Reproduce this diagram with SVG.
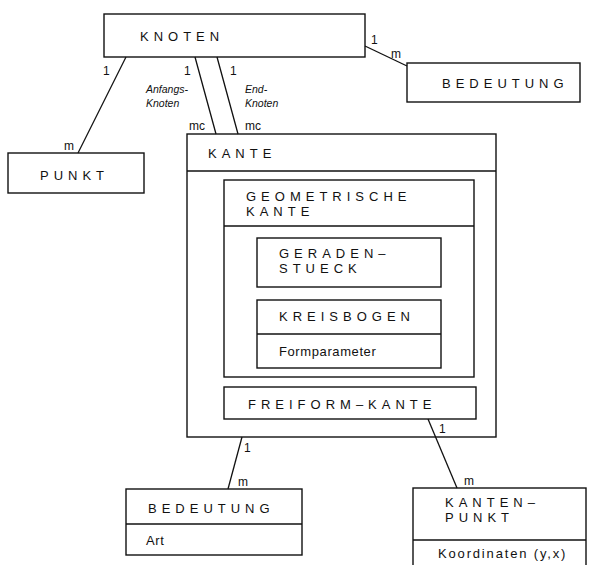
<svg xmlns="http://www.w3.org/2000/svg" width="595" height="565" viewBox="0 0 595 565">
<style>
.b{fill:none;stroke:#111;stroke-width:1.4}
#connectors line{stroke:#111;stroke-width:1.3}
text{font-family:"Liberation Sans",Arial,sans-serif;fill:#111}
.t{font-size:13px;letter-spacing:5px}
.s{font-size:13px;letter-spacing:0.6px}
.c{font-size:12px}
.i{font-size:10.5px;font-style:italic}
</style>
<rect x="0" y="0" width="595" height="565" fill="#fff"/>
<g id="connectors">
<line x1="126" y1="57" x2="78" y2="153"/>
<line x1="195" y1="57" x2="216" y2="134"/>
<line x1="217" y1="57" x2="238" y2="134"/>
<line x1="365" y1="46" x2="407" y2="66"/>
<line x1="242" y1="437" x2="228" y2="489"/>
<line x1="428" y1="419" x2="457" y2="488"/>
<text class="c" x="103" y="75">1</text>
<text class="c" x="64" y="150">m</text>
<text class="c" x="184" y="75">1</text>
<text class="c" x="230" y="75">1</text>
<text class="c" x="371" y="44">1</text>
<text class="c" x="391" y="58">m</text>
<text class="c" x="189" y="130">mc</text>
<text class="c" x="245" y="130">mc</text>
<text class="i" x="146" y="93">Anfangs-</text>
<text class="i" x="146" y="107">Knoten</text>
<text class="i" x="245" y="93">End-</text>
<text class="i" x="245" y="107">Knoten</text>
<text class="c" x="244" y="452">1</text>
<text class="c" x="238" y="486">m</text>
<text class="c" x="439" y="433">1</text>
<text class="c" x="464" y="485">m</text>
</g>
<g id="knoten">
<rect class="b" x="104" y="14" width="261" height="43"/>
<text class="t" x="140" y="41">KNOTEN</text>
</g>
<g id="punkt">
<rect class="b" x="8" y="153" width="136" height="40"/>
<text class="t" x="40" y="180">PUNKT</text>
</g>
<g id="bedeutung1">
<rect class="b" x="407" y="63" width="173" height="39"/>
<text class="t" x="442" y="88">BEDEUTUNG</text>
</g>
<g id="kante">
<rect class="b" x="187" y="134" width="309" height="303"/>
<line class="b" x1="187" y1="171" x2="496" y2="171"/>
<text class="t" x="208" y="158">KANTE</text>
</g>
<g id="geometrische-kante">
<rect class="b" x="224" y="180" width="250" height="197"/>
<line class="b" x1="224" y1="226" x2="474" y2="226"/>
<text class="t" x="246" y="201">GEOMETRISCHE</text>
<text class="t" x="246" y="216">KANTE</text>
</g>
<g id="geradenstueck">
<rect class="b" x="257" y="238" width="184" height="49"/>
<text class="t" x="279" y="258">GERADEN–</text>
<text class="t" x="279" y="273">STUECK</text>
</g>
<g id="kreisbogen">
<rect class="b" x="257" y="300" width="184" height="68"/>
<line class="b" x1="257" y1="334" x2="441" y2="334"/>
<text class="t" x="279" y="321">KREISBOGEN</text>
<text class="s" x="279" y="356">Formparameter</text>
</g>
<g id="freiform-kante">
<rect class="b" x="224" y="387" width="252" height="32"/>
<text class="t" x="248" y="409">FREIFORM–KANTE</text>
</g>
<g id="bedeutung2">
<rect class="b" x="126" y="489" width="176" height="66"/>
<line class="b" x1="126" y1="524" x2="302" y2="524"/>
<text class="t" x="148" y="513">BEDEUTUNG</text>
<text class="s" x="146" y="545">Art</text>
</g>
<g id="kantenpunkt">
<rect class="b" x="413" y="488" width="173" height="82"/>
<line class="b" x1="413" y1="540" x2="586" y2="540"/>
<text class="t" x="445" y="507">KANTEN–</text>
<text class="t" x="445" y="522">PUNKT</text>
<text class="s" x="438" y="558" textLength="128">Koordinaten (y,x)</text>
</g>
</svg>
